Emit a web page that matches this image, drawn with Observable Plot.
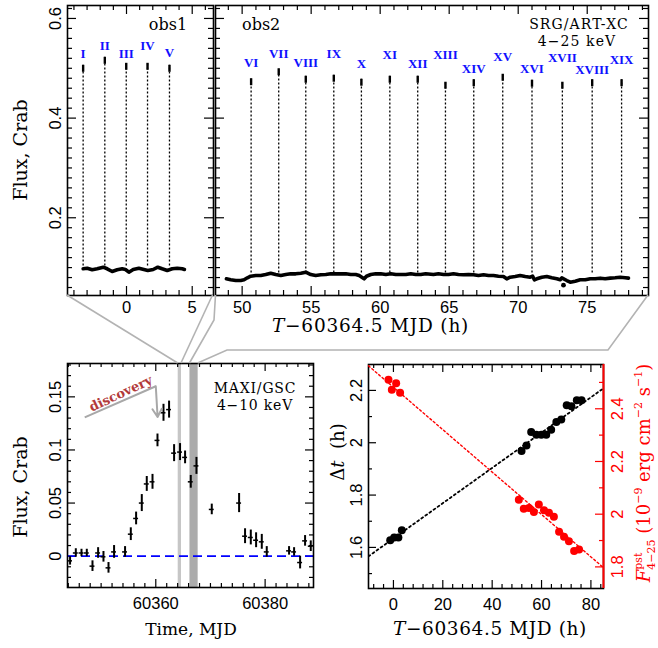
<!DOCTYPE html>
<html><head><meta charset="utf-8">
<script src="https://cdn.jsdelivr.net/npm/d3@7"></script>
<script src="https://cdn.jsdelivr.net/npm/@observablehq/plot@0.6"></script>
<style>
body{margin:0;background:#fff;}
#fig{position:relative;width:658px;height:648px;overflow:hidden;background:#fff;}
#fig svg{position:absolute;left:0;top:0;background:transparent;overflow:visible;}
</style></head><body><div id="fig"></div>
<script>
// ===================== DATA =====================
// SRG/ART-XC light curve, obs1 (T-60364.5 MJD in hours, flux in Crab)
const obs1T = [-3.30,-2.99,-2.61,-2.23,-1.77,-1.47,-1.09,-0.71,-0.33,-0.08,0.18,0.51,0.94,1.32,1.62,2.03,2.38,2.71,3.10,3.48,3.86,4.24,4.41];
const obs1F = [0.0976,0.0988,0.0956,0.0976,0.1008,0.0976,0.0922,0.0956,0.0976,0.0962,0.0908,0.0962,0.0988,0.0962,0.0942,0.0962,0.1008,0.0976,0.0942,0.0976,0.0988,0.0976,0.0962];
// obs2
const obs2T = [48.86,49.17,49.54,49.90,50.14,50.38,50.62,50.99,51.35,51.71,52.07,52.43,52.80,53.16,53.52,53.88,54.25,54.61,54.97,55.33,55.70,56.06,56.42,56.78,57.14,57.51,57.87,58.23,58.48,58.67,58.84,59.01,59.32,59.68,60.04,60.41,60.77,61.13,61.49,61.86,62.22,62.58,62.94,63.30,
  63.86,64.22,64.59,64.95,65.31,65.67,66.04,66.40,66.76,67.12,67.49,67.85,68.21,68.57,68.93,69.17,69.42,69.78,70.14,70.51,70.87,71.04,71.18,71.35,71.71,72.07,72.43,72.80,73.04,73.16,73.52,73.77,74.13,74.49,74.86,75.22,75.58,75.94,76.30,76.67,77.03,77.39,77.75,77.99];
const obs2F = [0.0775,0.0755,0.0741,0.0741,0.0755,0.0795,0.0827,0.0841,0.0841,0.0861,0.0888,0.0861,0.0841,0.0861,0.0875,0.0875,0.0888,0.0908,0.0861,0.0841,0.0855,0.0861,0.0875,0.0875,0.0875,0.0875,0.0861,0.0861,0.0841,0.0807,0.0775,0.0827,0.0861,0.0875,0.0875,0.0861,0.0875,0.0861,0.0861,0.0861,0.0875,0.0861,0.0861,0.0875,
  0.0861,0.0875,0.0861,0.0861,0.0875,0.0861,0.0855,0.0861,0.0855,0.0841,0.0855,0.0841,0.0841,0.0827,0.0821,0.0775,0.0807,0.0821,0.0841,0.0821,0.0807,0.0827,0.0755,0.0775,0.0807,0.0821,0.0795,0.0775,0.0755,0.0795,0.0741,0.0708,0.0728,0.0755,0.0755,0.0775,0.0775,0.0788,0.0775,0.0788,0.0795,0.0807,0.0795,0.0788];
const dipT = [73.28];
const dipF = [0.0647];

// pulse peaks
const peakNames = ["I","II","III","IV","V","VI","VII","VIII","IX","X","XI","XII","XIII","XIV","XV","XVI","XVII","XVIII","XIX"];
const peakT     = [-3.30,-1.65,-0.02,1.60,3.27, 50.65,52.65,54.61,56.64,58.64,60.70,62.72,64.73,66.78,68.88,71.00,73.20,75.36,77.49];
const peakTop   = [0.506,0.522,0.510,0.510,0.506, 0.479,0.499,0.484,0.486,0.478,0.484,0.484,0.472,0.477,0.488,0.476,0.472,0.477,0.477];
const peakLabel = [0.530,0.546,0.530,0.546,0.532, 0.510,0.529,0.510,0.529,0.509,0.528,0.509,0.528,0.499,0.522,0.499,0.521,0.496,0.517];
const peakBase  = [0.103,0.103,0.103,0.103,0.103, 0.089,0.089,0.089,0.089,0.089,0.089,0.089,0.089,0.089,0.089,0.089,0.089,0.089,0.089];
const peakObs   = [1,1,1,1,1, 2,2,2,2,2,2,2,2,2,2,2,2,2,2];

// MAXI/GSC daily light curve
const maxiMJD  = [60344.32,60345.37,60346.41,60347.38,60348.42,60349.45,60350.43,60351.35,60352.37,60354.38,60355.43,60356.40,60357.44,60358.35,60359.40,60360.31,60361.41,60362.43,60363.35,60364.44,60365.36,60366.40,60367.44,60370.24,60375.24,60376.33,60377.38,60378.35,60379.39,60380.30,60384.38,60385.30,60386.40,60387.31,60388.35];
const maxiFlux = [-0.0044,0.003,0.003,0.003,-0.0094,0.003,-0.0006,-0.011,0.004,0.004,0.0207,0.0355,0.050,0.068,0.070,0.109,0.135,0.138,0.097,0.098,0.093,0.070,0.085,0.044,0.050,0.0188,0.0176,0.015,0.0135,0.004,0.005,0.004,-0.006,0.0144,0.0094];
const maxiErr  = [0.004,0.004,0.0035,0.0035,0.005,0.005,0.005,0.005,0.006,0.005,0.006,0.006,0.008,0.007,0.007,0.006,0.008,0.008,0.008,0.008,0.006,0.006,0.008,0.005,0.009,0.007,0.007,0.007,0.007,0.005,0.004,0.004,0.006,0.005,0.005];
const maxiHalfBin = 0.45;
// ART-XC observation windows (MJD)
const bandStart = [60364.10, 60366.25];
const bandEnd   = [60364.70, 60367.75];
// discovery annotation
const discLineX = [60347.0, 60360.0];
const discLineY = [0.1306, 0.160];
const discArrowX = [60360.0, 60360.33];
const discArrowY = [0.160, 0.131];
const discTextX = [60353.6];
const discTextY = [0.1530];

// pulse period and peak flux vs time
const dtT = [-1.3,0.3,2.0,3.4,51.9,53.9,55.8,57.9,59.9,61.9,63.9,66.0,68.0,70.2,72.1,74.3,76.2];
const dtV = [1.627,1.638,1.638,1.666,1.968,1.989,2.041,2.031,2.031,2.031,2.050,2.079,2.089,2.143,2.139,2.162,2.162];
const fT  = [-2.0,-0.65,1.1,2.7,50.8,52.8,54.9,56.9,58.9,61.0,63.0,65.0,67.1,69.1,71.1,73.2,75.2];
const fV  = [2.510,2.472,2.497,2.461,2.055,2.021,2.023,2.008,2.037,2.015,2.005,1.990,1.933,1.914,1.897,1.860,1.866];
const fitT  = [-10.1, 85.1];
const fitDt = [1.566, 2.208];
const fitF  = [2.563, 1.797];

// ticks
const topYMajor = [0.2,0.4,0.6];
const topYMinor = [0.06,0.08,0.1,0.12,0.14,0.16,0.18,0.22,0.24,0.26,0.28,0.3,0.32,0.34,0.36,0.38,0.42,0.44,0.46,0.48,0.5,0.52,0.54,0.56,0.58,0.62];
const obs1XMajor = [0,5];
const obs1XMinor = [-4,-3,-2,-1,1,2,3,4,6];
const obs2XMajor = [50,55,60,65,70,75];
const obs2XMinor = [49,51,52,53,54,56,57,58,59,61,62,63,64,66,67,68,69,71,72,73,74,76,77,78,79];
const maxiXMajor = [60360,60380];
const maxiXMinor = [60344,60346,60348,60350,60352,60354,60356,60358,60362,60364,60366,60368,60370,60372,60374,60376,60378,60382,60384,60386,60388];
const maxiYMajor = [0,0.05,0.1,0.15];
const maxiYMinor = [-0.02,-0.01,0.01,0.02,0.03,0.04,0.06,0.07,0.08,0.09,0.11,0.12,0.13,0.14,0.16,0.17,0.18];
const dXMajor = [0,20,40,60,80];
const dXMinor = [-8,-4,4,8,12,16,24,28,32,36,44,48,52,56,64,68,72,76,84];
const dYMajor = [1.6,1.8,2,2.2];
const dYMinor = [1.5,1.7,1.9,2.1];
const fYMajor = [1.8,2,2.2,2.4];
const fYMinor = [1.9,2.1,2.3,2.5];

// ===================== LAYOUT =====================
const W = 658, H = 648;
const frA = {l:67, r:213, t:5, b:295};
const frB = {l:215, r:648, t:5, b:295};
const frC = {l:67, r:313, t:363, b:587};
const frD = {l:368, r:603, t:364, b:588};
const tickFont = "Liberation Sans, Arial, sans-serif";
const serif = "DejaVu Serif, serif";
const RED = "#ff0000";
const TFS = 16.5;

function frameOpts(f){ return {width:W, height:H, marginLeft:f.l, marginRight:W-f.r, marginTop:f.t, marginBottom:H-f.b}; }
function ticksX(vals, len, f, o={}){
  const h = f.b - f.t;
  return [Plot.tickX(vals, {x:d=>d, insetTop:h-len, strokeWidth:1.2, ...o}),
          Plot.tickX(vals, {x:d=>d, insetBottom:h-len, strokeWidth:1.2, ...o})];
}
function ticksY(vals, len, f, sides, o={}){
  const w = f.r - f.l, m = [];
  if (sides.includes("left")) m.push(Plot.tickY(vals, {y:d=>d, insetRight:w-len, strokeWidth:1.2, ...o}));
  if (sides.includes("right")) m.push(Plot.tickY(vals, {y:d=>d, insetLeft:w-len, strokeWidth:1.2, ...o}));
  return m;
}
const axFmt = d => String(d);

const obs1 = obs1T.map((t,i)=>({t, f:obs1F[i]}));
const obs2 = obs2T.map((t,i)=>({t, f:obs2F[i]}));
const dip = dipT.map((t,i)=>({t, f:dipF[i]}));
const peaks = peakNames.map((name,i)=>({name, t:peakT[i], top:peakTop[i], ly:peakLabel[i], base:peakBase[i], obs:peakObs[i]}));
const peakTickLen = 0.014;

function topPanel(fr, xDomain, xMajor, xMinor, curve, obsId, withYLabels){
  const pk = peaks.filter(d=>d.obs===obsId);
  const marks = [
    ...ticksX(xMinor, 5, fr), ...ticksX(xMajor, 9, fr),
    ...ticksY(topYMinor, 5, fr, ["left","right"]), ...ticksY(topYMajor, 9, fr, ["left","right"]),
    Plot.ruleX(pk, {x:"t", y1:"base", y2:"top", strokeDasharray:"2,2", strokeWidth:1.3}),
    Plot.ruleX(pk, {x:"t", y1:d=>d.top-peakTickLen, y2:"top", strokeWidth:2.4}),
    Plot.text(pk, {x:"t", y:"ly", text:"name", fill:"#1010ff", fontWeight:"bold", fontFamily:"Liberation Serif, serif", fontSize:13}),
    Plot.line(curve, {x:"t", y:"f", strokeWidth:3.6, strokeLinejoin:"round", strokeLinecap:"round"}),
    Plot.frame({strokeWidth:1.6}),
    Plot.axisX(xMajor, {tickSize:0, tickPadding:6, fontSize:TFS, fontFamily:tickFont, label:null, tickFormat:axFmt})
  ];
  if (obsId === 2) marks.push(Plot.dot(dip, {x:"t", y:"f", r:2.4, fill:"black"}));
  if (withYLabels) marks.push(Plot.axisY(topYMajor, {tickSize:0, tickPadding:7, tickRotate:-90, fontSize:TFS, fontFamily:tickFont, label:null, tickFormat:axFmt}));
  return Plot.plot({...frameOpts(fr), x:{domain:xDomain, axis:null}, y:{domain:[0.044,0.626], axis:null}, marks});
}

const plotA = topPanel(frA, [-4.49, 6.62], obs1XMajor, obs1XMinor, obs1, 1, true);
const plotB = topPanel(frB, [48.07, 79.44], obs2XMajor, obs2XMinor, obs2, 2, false);

const maxi = maxiMJD.map((x,i)=>({x, y:maxiFlux[i], e:maxiErr[i]}));
const plotC = Plot.plot({
  ...frameOpts(frC),
  x:{domain:[60343.85, 60388.85], axis:null},
  y:{domain:[-0.0295, 0.1814], axis:null},
  marks:[
    Plot.rect([0], {x1:()=>bandStart[0], x2:()=>bandEnd[0], fill:"#c6c6c6"}),
    Plot.rect([0], {x1:()=>bandStart[1], x2:()=>bandEnd[1], fill:"#ababab"}),
    ...ticksX(maxiXMinor, 4, frC), ...ticksX(maxiXMajor, 8, frC),
    ...ticksY(maxiYMinor, 4, frC, ["left","right"]), ...ticksY(maxiYMajor, 8, frC, ["left","right"]),
    Plot.ruleY([0], {stroke:"#0000ff", strokeDasharray:"9,5", strokeWidth:1.6}),
    Plot.ruleX(maxi, {x:"x", y1:d=>d.y-d.e, y2:d=>d.y+d.e, strokeWidth:2}),
    Plot.ruleY(maxi, {y:"y", x1:d=>d.x-maxiHalfBin, x2:d=>d.x+maxiHalfBin, strokeWidth:1.5, clip:true}),
    Plot.link([0], {x1:()=>discLineX[0], y1:()=>discLineY[0], x2:()=>discLineX[1], y2:()=>discLineY[1], stroke:"#a8a8a8", strokeWidth:2}),
    Plot.arrow([0], {x1:()=>discArrowX[0], y1:()=>discArrowY[0], x2:()=>discArrowX[1], y2:()=>discArrowY[1], stroke:"#a8a8a8", strokeWidth:2, headLength:7}),
    Plot.text(["discovery"], {x:()=>discTextX[0], y:()=>discTextY[0], text:d=>d, rotate:-25, fill:"#b23a3a", fontWeight:"bold", fontFamily:serif, fontSize:13}),
    Plot.frame({strokeWidth:1.6}),
    Plot.axisX(maxiXMajor, {tickSize:0, tickPadding:10, fontSize:TFS, fontFamily:tickFont, label:null, tickFormat:axFmt}),
    Plot.axisY(maxiYMajor, {tickSize:0, tickPadding:7, tickRotate:-90, fontSize:TFS, fontFamily:tickFont, label:null, tickFormat:axFmt})
  ]
});

const dtData = dtT.map((t,i)=>({t, v:dtV[i]}));
const fData = fT.map((t,i)=>({t, v:fV[i]}));
const fitDtData = fitT.map((t,i)=>({t, v:fitDt[i]}));
const fitFData = fitT.map((t,i)=>({t, v:fitF[i]}));
const dXDomain = [-10.1, 85.1];
const plotD1 = Plot.plot({
  ...frameOpts(frD),
  x:{domain:dXDomain, axis:null},
  y:{domain:[1.443, 2.299], axis:null},
  marks:[
    ...ticksX(dXMinor, 4, frD), ...ticksX(dXMajor, 8, frD),
    ...ticksY(dYMinor, 4, frD, ["left"]), ...ticksY(dYMajor, 8, frD, ["left"]),
    Plot.line(fitDtData, {x:"t", y:"v", strokeDasharray:"2,3", strokeWidth:1.8, clip:true}),
    Plot.dot(dtData, {x:"t", y:"v", r:4, fill:"black"}),
    Plot.frame({strokeWidth:1.6}),
    Plot.axisX(dXMajor, {tickSize:0, tickPadding:10, fontSize:TFS, fontFamily:tickFont, label:null, tickFormat:axFmt}),
    Plot.axisY(dYMajor, {tickSize:0, tickPadding:7, tickRotate:-90, fontSize:TFS, fontFamily:tickFont, label:null, tickFormat:axFmt})
  ]
});
const plotD2 = Plot.plot({
  ...frameOpts(frD),
  x:{domain:dXDomain, axis:null},
  y:{domain:[1.718, 2.568], axis:null},
  marks:[
    ...ticksY(fYMinor, 4, frD, ["right"], {stroke:RED}), ...ticksY(fYMajor, 8, frD, ["right"], {stroke:RED}),
    Plot.line(fitFData, {x:"t", y:"v", stroke:RED, strokeDasharray:"2,2.5", strokeWidth:1.4, clip:true}),
    Plot.dot(fData, {x:"t", y:"v", r:4, fill:RED}),
    Plot.ruleX([dXDomain[1]], {stroke:RED, strokeWidth:2}),
    Plot.axisY(fYMajor, {anchor:"right", tickSize:0, tickPadding:8, tickRotate:-90, lineAnchor:"top", color:RED, fontSize:TFS, fontFamily:tickFont, label:null, tickFormat:axFmt})
  ]
});

const fig = document.getElementById("fig");
[plotA, plotB, plotC, plotD1, plotD2].forEach(p => fig.appendChild(p));

// ===================== OVERLAY: connectors and titles =====================
const ov = d3.select(fig).append("svg").attr("width", W).attr("height", H);
const xC = plotC.scale("x");
const conn = ov.append("g").attr("fill","none").attr("stroke","#b3b3b3").attr("stroke-width",1.6);
const ln = d3.line();
conn.append("path").attr("d", ln([[frA.l, frA.b],[xC.apply(bandStart[0]), frC.t]]));
conn.append("path").attr("d", ln([[frA.r-0.5, frA.b],[xC.apply(bandEnd[0]), frC.t]]));
conn.append("path").attr("d", ln([[frB.l+0.5, frB.b],[frB.l-1, frB.b+25],[xC.apply(bandStart[1]), frC.t]]));
conn.append("path").attr("d", ln([[frB.r, frB.b],[608, 350],[227, 350],[xC.apply(bandEnd[1]), frC.t]]));

function txt(x, y, s, o={}){
  return ov.append("text").attr("x",x).attr("y",y).text(s)
    .attr("font-family", o.family || serif).attr("font-size", o.size || 16)
    .attr("letter-spacing", o.ls || 0)
    .attr("text-anchor", o.anchor || "middle").attr("fill", o.fill || "black");
}
txt(168, 30, "obs1");
txt(242, 30, "obs2", {anchor:"start"});
txt(579, 29, "SRG/ART-XC", {size:14, ls:1.1});
txt(577, 46, "4\u221225 keV", {size:14, ls:1.1});
txt(255, 393, "MAXI/GSC", {size:14, ls:0.8});
txt(255, 410, "4\u221210 keV", {size:14, ls:0.8});

// rich text laid out piece by piece (supports super/subscripts)
function rich(x, y, rotate, pieces, o={}){
  const g = ov.append("g").attr("transform", `translate(${x},${y}) rotate(${rotate})`);
  const inner = g.append("g");
  let cursor = 0, stackStart = 0, stackEnd = 0;
  pieces.forEach(p => {
    const px = p.stack ? stackStart : cursor;
    const t = inner.append("text").attr("x", px).attr("y", p.dy || 0).text(p.t)
      .attr("font-family", serif).attr("font-size", p.size || o.size || 18)
      .attr("font-style", p.italic ? "italic" : "normal").attr("fill", o.fill || "black")
      .attr("letter-spacing", o.ls || 0)
      .style("white-space","pre");
    const w = t.node().getComputedTextLength();
    if (!p.stack) { stackStart = cursor; cursor = px + w; stackEnd = cursor; }
    else { cursor = Math.max(stackEnd, px + w); }
  });
  inner.attr("transform", `translate(${-cursor/2},0)`);
}
rich(26.5, 150, -90, [{t:"Flux, Crab"}], {size:19});
rich(26.5, 487, -90, [{t:"Flux, Crab"}], {size:19});
rich(370.5, 332, 0, [{t:"T", italic:true},{t:"\u221260364.5 MJD (h)"}], {size:18.5, ls:0.8});
rich(191, 635, 0, [{t:"Time, MJD"}], {size:17});
rich(490, 635, 0, [{t:"T", italic:true},{t:"\u221260364.5 MJD (h)"}], {size:18.5, ls:0.6});
rich(344, 452, -90, [{t:"\u0394"},{t:"t", italic:true},{t:"  (h)"}], {size:18});
rich(650, 473, -90, [
  {t:"F", italic:true},
  {t:"pst", size:11, dy:-8},
  {t:"4\u221225", size:11, dy:5, stack:true},
  {t:" (10"},
  {t:"\u22129", size:11, dy:-8},
  {t:" erg cm"},
  {t:"\u22122", size:11, dy:-8},
  {t:" s"},
  {t:"\u22121", size:11, dy:-8},
  {t:")"}
], {size:18, fill:RED});
</script></body></html>
